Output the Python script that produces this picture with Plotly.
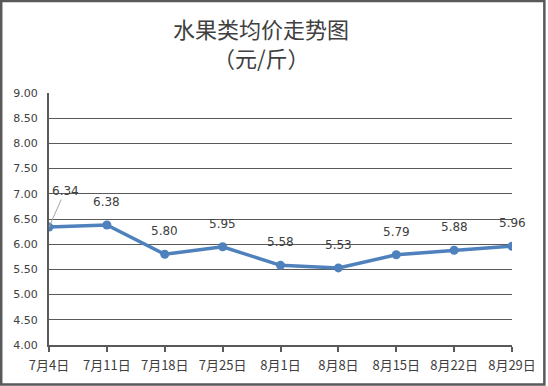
import plotly.graph_objects as go

categories = ["7月4日", "7月11日", "7月18日", "7月25日", "8月1日", "8月8日", "8月15日", "8月22日", "8月29日"]
prices = [6.34, 6.38, 5.80, 5.95, 5.58, 5.53, 5.79, 5.88, 5.96]
y_ticks = [4.0, 4.5, 5.0, 5.5, 6.0, 6.5, 7.0, 7.5, 8.0, 8.5, 9.0]
title_lines = ["水果类均价走势图", "（元/斤）"]

W, H = 548, 386
L, R, T, B = 49, 34, 93, 41
pw, ph = W - L - R, H - T - B

font_cjk = "Noto Sans CJK SC, DejaVu Sans, sans-serif"
font_num = "DejaVu Sans, Noto Sans CJK SC, sans-serif"

fig = go.Figure()
fig.add_trace(go.Scatter(
    x=categories, y=prices, mode="lines+markers",
    line=dict(color="#4F81BD", width=3.5),
    marker=dict(color="#4F81BD", size=9),
    hoverinfo="skip", showlegend=False,
))

annotations = []
for i, (c, v) in enumerate(zip(categories, prices)):
    if i == 0:
        annotations.append(dict(
            x=c, y=v, xref="x", yref="y", text=f"{v:.2f}",
            showarrow=True, arrowhead=0, arrowwidth=1, arrowcolor="#A6A6A6",
            ax=16, ay=-36, font=dict(family=font_num, size=12, color="#404040"),
        ))
    else:
        annotations.append(dict(
            x=c, y=v, xref="x", yref="y", text=f"{v:.2f}",
            showarrow=False, yshift=23,
            font=dict(family=font_num, size=12, color="#404040"),
        ))

for line, ypix in zip(title_lines, [28, 57]):
    annotations.append(dict(
        x=(W / 2 - 12 - L) / pw, y=1 + (T - ypix) / ph, xref="paper", yref="paper",
        text=line, showarrow=False,
        font=dict(family=font_cjk, size=22, color="#404040"),
        xanchor="center", yanchor="middle", align="center",
    ))

fig.update_layout(
    width=W, height=H,
    margin=dict(l=L, r=R, t=T, b=B),
    paper_bgcolor="white", plot_bgcolor="white",
    annotations=annotations,
    shapes=[dict(
        type="rect", xref="paper", yref="paper",
        x0=(-L + 1) / pw, x1=(W - L - 1.5) / pw,
        y0=(-B + 1.5) / ph, y1=1 + (T - 1) / ph,
        line=dict(color="#595959", width=2.5), fillcolor="rgba(0,0,0,0)",
        layer="above",
    )],
    xaxis=dict(
        type="category", range=[0, len(categories) - 1],
        showgrid=False, showline=True, linecolor="#595959", linewidth=2,
        ticks="outside", ticklen=5, tickwidth=2, tickcolor="#595959",
        tickfont=dict(family=font_cjk, size=13, color="#404040"),
        ticklabelstandoff=2,
        fixedrange=True,
    ),
    yaxis=dict(
        range=[4.0, 9.0], tickvals=y_ticks, tickformat=".2f",
        showgrid=True, gridcolor="#595959", gridwidth=1,
        showline=True, linecolor="#595959", linewidth=2,
        ticks="", zeroline=False,
        tickfont=dict(family=font_num, size=11, color="#404040"),
        ticklabelstandoff=7,
        fixedrange=True,
    ),
)

fig.write_html("out.html", config={"displayModeBar": False},
               post_script="document.body.style.margin='0';document.body.style.overflow='hidden';")
